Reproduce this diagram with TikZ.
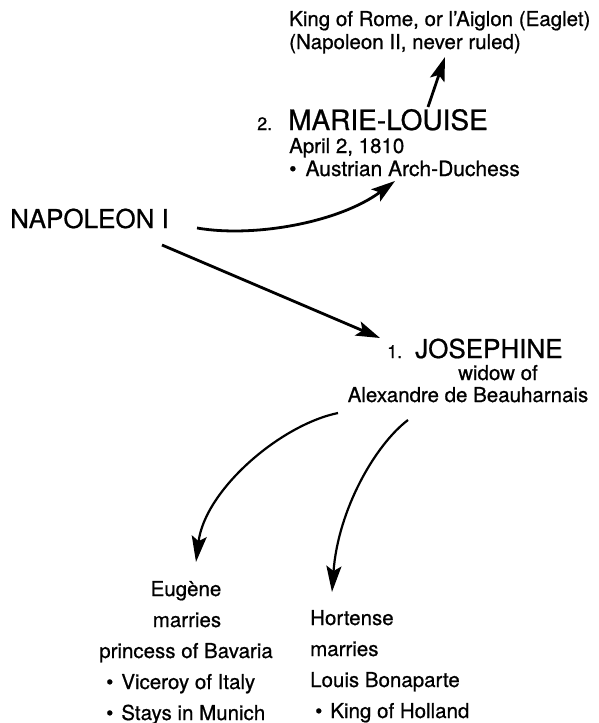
\documentclass[tikz,border=0pt]{standalone}
\usepackage{fontspec}
\setmainfont[FakeBold=0.7]{TeX Gyre Heros}
\usetikzlibrary{arrows.meta}
\tikzset{
  txt/.style={inner sep=0pt, font=\fontsize{20.5}{24}\selectfont},
  big/.style={inner sep=0pt, font=\fontsize{26}{30}\selectfont},
  num/.style={inner sep=0pt, font=\fontsize{18}{22}\selectfont},
  arr/.style={line width=2.8pt, -{Stealth[length=24pt,width=15pt,inset=5pt]}},
  carr/.style={line width=2.2pt, -{Stealth[length=26pt,width=15pt,inset=5pt]}}
}
\begin{document}
\begin{tikzpicture}[x=1pt,y=-1pt]
\useasboundingbox (0,0) rectangle (598,723);
% King of Rome
\node[txt,anchor=base west] (rome1) at (289,26) {King of Rome, or l’Aiglon (Eaglet)};
\node[txt,anchor=base west] (rome2) at (289,49) {(Napoleon II, never ruled)};
% Marie-Louise
\node[num,anchor=base west] (two) at (257,130) {2.};
\node[big,anchor=base west,font=\fontsize{28}{32}\selectfont] (marie) at (288,130) {MARIE-LOUISE};
\node[txt,anchor=base west] (april) at (289,153) {April 2, 1810};
\node[txt,anchor=base west,font=\fontsize{21}{24}\selectfont] (austr) at (289,176) {\textbullet\hspace{9pt}Austrian Arch-Duchess};
% Napoleon
\node[big,anchor=base west] (nap) at (10,228) {NAPOLEON I};
% Josephine
\node[num,anchor=base west] (one) at (387,358) {1.};
\node[big,anchor=base west] (jos) at (415,358) {JOSEPHINE};
\node[txt,anchor=base] (widow) at (498,380) {widow of};
\node[txt,anchor=base] (alex) at (468,402) {Alexandre de Beauharnais};
% Eugene
\node[txt,anchor=base] (eug) at (186,596) {Eugène};
\node[txt,anchor=base] (eugm) at (187,627) {marries};
\node[txt,anchor=base] (eugp) at (186,658) {princess of Bavaria};
\node[txt,anchor=base west] (eugv) at (106,689) {\textbullet\hspace{8pt}Viceroy of Italy};
\node[txt,anchor=base west] (eugs) at (106,720) {\textbullet\hspace{8pt}Stays in Munich};
% Hortense
\node[txt,anchor=base west] (hor) at (310,625) {Hortense};
\node[txt,anchor=base west] (horm) at (310,656) {marries};
\node[txt,anchor=base west] (horl) at (310,687) {Louis Bonaparte};
\node[txt,anchor=base west] (hork) at (315,718) {\textbullet\hspace{8pt}King of Holland};
% connector end points
\coordinate (mA) at (428,107);
\coordinate (rA) at (445,57);
\coordinate (nA) at (197,228);
\coordinate (mB) at (395,181);
\coordinate (nB) at (162,245);
\coordinate (jA) at (380,338);
\coordinate (aA) at (338,413);
\coordinate (eA) at (196,562);
\coordinate (aB) at (408,420);
\coordinate (hA) at (332,592);
% connectors
\draw[arr] (mA) -- (rA);
\draw[arr] (nA) .. controls (255,238) and (340,222) .. (mB);
\draw[arr] (nB) -- (jA);
\draw[carr] (aA) .. controls (280,425) and (205,490) .. (eA);
\draw[carr] (aB) .. controls (375,445) and (338,510) .. (hA);
\end{tikzpicture}
\end{document}
